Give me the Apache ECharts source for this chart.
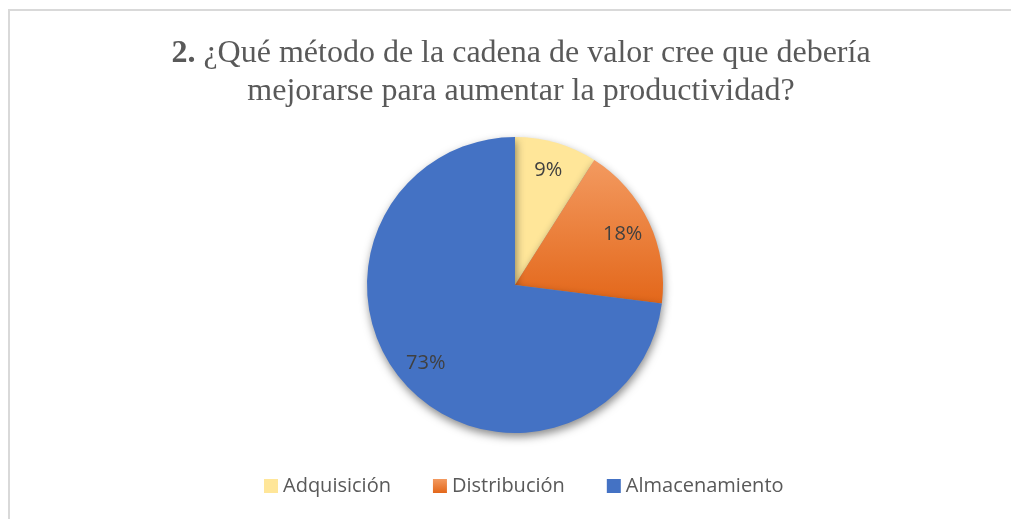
<!DOCTYPE html>
<html>
<head>
    <meta charset="utf-8">
    <script src="https://cdn.jsdelivr.net/npm/echarts@6/dist/echarts.min.js"></script>
    <style>
        body { margin: 0; background: #fff; }
    </style>
</head>
<body>
    <div id="main" style="width:1011px; height:519px;"></div>
</body>
	<script type="text/javascript">
        var myChart = echarts.init(document.getElementById('main'));
		var categories = ['Adquisición', 'Distribución', 'Almacenamiento'];
		var values = [9, 18, 73];
		var colors = [
			'#FFE699',
			new echarts.graphic.LinearGradient(0, 0, 0, 1, [
				{offset: 0, color: '#F39A60'},
				{offset: 1, color: '#E3671A'}
			]),
			'#4472C4'
		];

		var data = [];
		for (var i = 0; i < categories.length; i++) {
			data.push({name: categories[i], value: values[i], itemStyle: {color: colors[i]}});
		}

      	option = {
			title: {
				text: '{b|2.} ¿Qué método de la cadena de valor cree que debería\nmejorarse para aumentar la productividad?',
				left: 516,
				textAlign: 'center',
				top: 30,
				textStyle: {
					fontFamily: 'Liberation Serif',
					fontSize: 32,
					fontWeight: 'normal',
					color: '#595959',
					lineHeight: 38,
					rich: {
						b: {fontFamily: 'Liberation Serif', fontSize: 32, fontWeight: 'bold', color: '#595959', lineHeight: 38}
					}
				}
			},
			legend: {
				data: categories,
				bottom: 18,
				left: 259,
				itemWidth: 14,
				itemHeight: 14,
				itemGap: 42,
				icon: 'rect',
				textStyle: {fontFamily: 'Open Sans', fontSize: 20, color: '#595959'}
			},
			graphic: [{
				type: 'polyline',
				shape: {points: [[9, 519], [9, 10], [1011, 10]]},
				style: {stroke: '#d9d9d9', lineWidth: 2, fill: null},
				silent: true
			}],
			series: [{
				type: 'pie',
				center: [515, 285],
				radius: 148,
				startAngle: 90,
				clockwise: true,
				data: data,
				label: {show: false},
				labelLine: {show: false},
				emphasis: {disabled: true},
				itemStyle: {
					borderWidth: 0,
					shadowBlur: 8,
					shadowOffsetY: 4,
					shadowOffsetX: 1,
					shadowColor: 'rgba(0,0,0,0.45)'
				}
			}, {
				type: 'pie',
				center: [515, 285],
				radius: [84, 148],
				startAngle: 90,
				clockwise: true,
				silent: true,
				data: data.map(function (d) { return {name: d.name, value: d.value, itemStyle: {color: 'rgba(0,0,0,0)'}}; }),
				label: {
					show: true,
					position: 'inside',
					formatter: '{c}%',
					fontFamily: 'Open Sans',
					fontSize: 20,
					color: '#404040'
				},
				labelLine: {show: false}
			}]
		};
        myChart.setOption(option);
    </script>
</html>
